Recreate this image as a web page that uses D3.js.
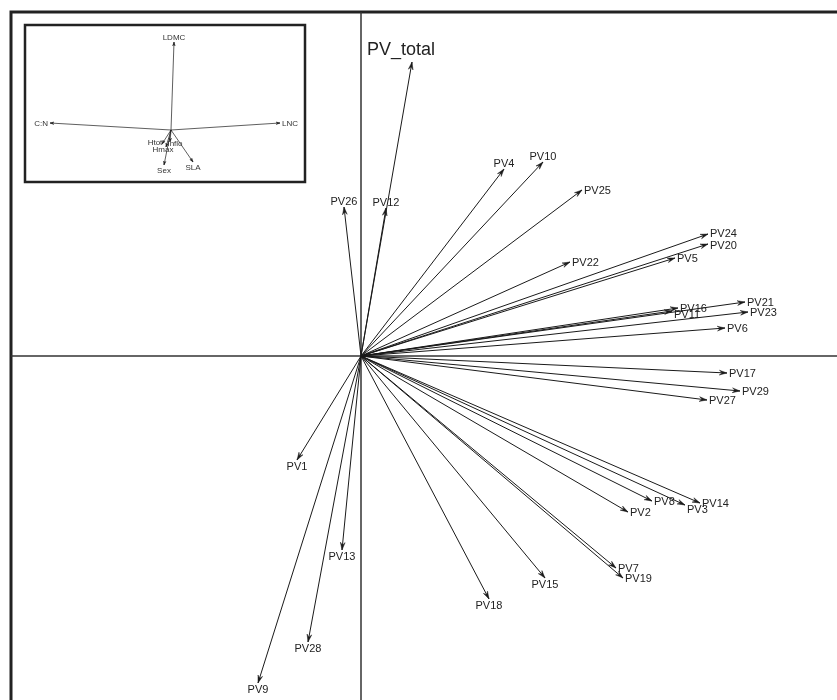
<!DOCTYPE html>
<html>
<head>
<meta charset="utf-8">
<script src="https://cdn.jsdelivr.net/npm/d3@7"></script>
<style>
  html, body { margin: 0; padding: 0; background: #fff; }
  svg { display: block; font-family: "Liberation Sans", Arial, sans-serif; will-change: transform; }
</style>
</head>
<body>
<svg id="chart" width="837" height="700"></svg>
<script>
// ---- Data (loadings) ----
const pvNames = ["PV4","PV10","PV25","PV26","PV12","PV22","PV24","PV20","PV5","PV16","PV11","PV21","PV23","PV6",
                 "PV17","PV29","PV27","PV8","PV3","PV14","PV2","PV7","PV19","PV15","PV18","PV1","PV13","PV28","PV9"];
const pvX = [0.286,0.364,0.442,-0.034,0.050,0.418,0.694,0.694,0.628,0.634,0.622,0.768,0.774,0.728,
             0.732,0.758,0.692,0.582,0.648,0.678,0.534,0.510,0.524,0.368,0.256,-0.128,-0.038,-0.106,-0.206];
const pvY = [0.374,0.388,0.332,0.298,0.296,0.188,0.244,0.224,0.196,0.096,0.090,0.108,0.088,0.056,
             -0.034,-0.070,-0.088,-0.290,-0.298,-0.294,-0.312,-0.424,-0.444,-0.444,-0.486,-0.208,-0.388,-0.572,-0.654];

const totalName = ["PV_total"];
const totalX = [0.102];
const totalY = [0.588];

// inset (trait loadings)
const traitNames = ["LDMC","C:N","LNC","SLA","Sex","Htot","Inflo","Hmax"];
const traitX = [0.03,-1.21,1.09,0.22,-0.07,-0.09,-0.01,-0.05];
const traitY = [0.88,0.07,0.07,-0.32,-0.35,-0.14,-0.12,-0.17];

// ---- Drawing ----
const svg = d3.select("#chart");
const W = 837, H = 700;

const x = d3.scaleLinear().domain([-0.702, 0.952]).range([10, 837]);
const y = d3.scaleLinear().domain([-0.688, 0.690]).range([700, 11]);

const ink = "#1a1a1a";

function arrowHead(g, x0, y0, x1, y1, len, half, color) {
  const a = Math.atan2(y1 - y0, x1 - x0);
  const p1 = [x1 - len * Math.cos(a - half), y1 - len * Math.sin(a - half)];
  const p2 = [x1 - len * Math.cos(a + half), y1 - len * Math.sin(a + half)];
  const p3 = [x1 - len * 0.6 * Math.cos(a), y1 - len * 0.6 * Math.sin(a)];
  g.append("path")
    .attr("d", `M${x1},${y1}L${p1[0]},${p1[1]}L${p3[0]},${p3[1]}L${p2[0]},${p2[1]}Z`)
    .attr("fill", color).attr("stroke", color).attr("stroke-width", 0.5);
}

// small label nudges (pixels) for crowded labels
const nudge = { "PV_total": [-11, 0], "PV3": [0, 4], "PV11": [0, 3], "PV24": [0, -1], "PV20": [0, 1],
                "Htot": [-7, -7], "Inflo": [5, -4], "Hmax": [-3, -3] };

function drawArrows(g, names, xs, ys, sx, sy, opts) {
  const ox = sx(0), oy = sy(0);
  names.forEach((n, i) => {
    const tx = sx(xs[i]), ty = sy(ys[i]);
    g.append("line")
      .attr("x1", ox).attr("y1", oy).attr("x2", tx).attr("y2", ty)
      .attr("stroke", ink).attr("stroke-width", opts.lw);
    arrowHead(g, ox, oy, tx, ty, opts.head, 0.3, ink);
    const dx = tx - ox, dy = ty - oy;
    const nd = nudge[n] || [0, 0];
    const t = g.append("text")
      .attr("font-size", opts.fs).attr("fill", opts.color).text(n)
      .attr("transform", `translate(${nd[0]},${nd[1]})`);
    if (Math.abs(dx) >= Math.abs(dy)) {
      t.attr("text-anchor", dx >= 0 ? "start" : "end")
       .attr("x", tx + (dx >= 0 ? opts.pad : -opts.pad))
       .attr("y", ty).attr("dy", "0.35em");
    } else {
      t.attr("text-anchor", "middle").attr("x", tx);
      if (dy < 0) t.attr("y", ty - opts.pad);
      else t.attr("y", ty + opts.pad).attr("dy", "0.72em");
    }
  });
}

// main frame (extends past the right and bottom edges)
svg.append("rect").attr("x", 11).attr("y", 12).attr("width", W + 20).attr("height", H + 20)
  .attr("fill", "#fff").attr("stroke", "#222").attr("stroke-width", 3);

// axes through the origin
svg.append("line").attr("x1", x(0)).attr("x2", x(0)).attr("y1", 12).attr("y2", H)
  .attr("stroke", "#333").attr("stroke-width", 1.5);
svg.append("line").attr("x1", 11).attr("x2", W).attr("y1", y(0)).attr("y2", y(0))
  .attr("stroke", "#333").attr("stroke-width", 1.5);

const gMain = svg.append("g");
drawArrows(gMain, pvNames, pvX, pvY, x, y, { lw: 1, head: 8, fs: 11, pad: 2, color: "#222" });
drawArrows(gMain, totalName, totalX, totalY, x, y, { lw: 1, head: 8, fs: 18, pad: 7, color: "#222" });

// inset
const inset = { x0: 25, y0: 25, x1: 305, y1: 182 };
svg.append("rect").attr("x", inset.x0).attr("y", inset.y0)
  .attr("width", inset.x1 - inset.x0).attr("height", inset.y1 - inset.y0)
  .attr("fill", "#fff").attr("stroke", "#222").attr("stroke-width", 2.5);

const xi = d3.scaleLinear().domain([-1.46, 1.34]).range([inset.x0, inset.x1]);
const yi = d3.scaleLinear().domain([-0.52, 1.05]).range([inset.y1, inset.y0]);
const gInset = svg.append("g");
drawArrows(gInset, traitNames, traitX, traitY, xi, yi, { lw: 0.7, head: 4, fs: 8, pad: 2, color: "#333" });
</script>
</body>
</html>
